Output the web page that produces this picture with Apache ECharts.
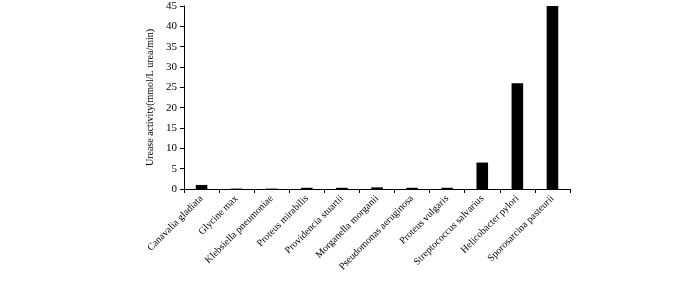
<!DOCTYPE html>
<html>
<head>
<meta charset="utf-8">
<script src="https://cdn.jsdelivr.net/npm/echarts@6/dist/echarts.min.js"></script>
<style>
  html, body { margin: 0; padding: 0; background: #fff; }
  #chart { width: 700px; height: 282px; }
</style>
</head>
<body>
<div id="chart"></div>
<script>
var species = ['Canavalia gladiata', 'Glycine max', 'Klebsiella pneumoniae', 'Proteus mirabilis',
    'Providencia stuartii', 'Morganella morganii', 'Pseudomonas aeruginosa', 'Proteus vulgaris',
    'Streptococcus salvarius', 'Helicobacter pylori', 'Sporosarcina pasteurii'];
var activity = [1.0, 0.1, 0.1, 0.3, 0.3, 0.4, 0.3, 0.3, 6.5, 26, 45];

var font = 'Liberation Serif';
var chart = echarts.init(document.getElementById('chart'));
chart.setOption({
    animation: false,
    grid: { left: 184, top: 6, width: 386, height: 183 },
    xAxis: {
        type: 'category',
        data: species,
        axisLine: { lineStyle: { color: '#000', width: 1 } },
        axisTick: { show: true, length: 4, lineStyle: { color: '#000' } },
        axisLabel: {
            interval: 0, rotate: 45, margin: 8,
            color: '#000', fontFamily: font, fontSize: 10
        }
    },
    yAxis: {
        type: 'value',
        min: 0, max: 45, interval: 5,
        name: 'Urease activity(mmol/L urea/min)',
        nameLocation: 'middle',
        nameGap: 28,
        nameTextStyle: { color: '#000', fontFamily: font, fontSize: 10 },
        axisLine: { show: true, lineStyle: { color: '#000', width: 1 } },
        axisTick: { show: true, length: 4, lineStyle: { color: '#000' } },
        axisLabel: { color: '#000', fontFamily: font, fontSize: 11, margin: 7 },
        splitLine: { show: false }
    },
    series: [{
        type: 'bar',
        data: activity,
        barWidth: '33%',
        itemStyle: { color: '#000' }
    }]
});
</script>
</body>
</html>
